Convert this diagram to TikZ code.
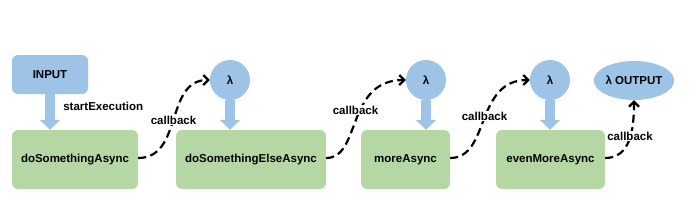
\documentclass[tikz,border=0pt]{standalone}
\usepackage{fontspec}
\setmainfont{Liberation Sans}
\usepackage{tikz}
\usetikzlibrary{positioning,arrows.meta,calc,shapes.geometric}
\definecolor{pipeblue}{RGB}{157,195,230}
\definecolor{taskgreen}{RGB}{181,215,164}

\begin{document}
\begin{tikzpicture}[
        x=1pt, y=1pt,
        font=\fontsize{11.5}{13}\selectfont\bfseries,
        task/.style={
            fill=taskgreen,
            rounded corners=6pt,
            minimum height=59pt,
            inner sep=2pt
        },
        inbox/.style={
            fill=pipeblue,
            rounded corners=6pt,
            minimum width=76pt,
            minimum height=39pt
        },
        lam/.style={
            circle,
            fill=pipeblue,
            minimum size=40pt,
            inner sep=0pt
        },
        outbox/.style={
            ellipse,
            fill=pipeblue,
            minimum width=78pt,
            minimum height=39pt,
            inner sep=0pt
        },
        pipe/.style={
            -{Triangle[length=10pt,width=20pt]},
            line width=10pt,
            draw=pipeblue
        },
        cb/.style={
            -{Straight Barb[length=5pt,width=10pt]},
            line width=2.2pt,
            dash pattern=on 8pt off 4.5pt
        },
        lbl/.style={
            fill=white,
            inner sep=1pt
        }
    ]
    \useasboundingbox (0,0) rectangle (692,210);

    % =========================
    % Tasks
    % =========================
    \node[inbox] (input) at (50,135.5) {INPUT};

    \node[task, minimum width=126pt] (do1) at (75,50.5) {doSomethingAsync};
    \node[task, minimum width=150pt] (do2) at (251,50.5) {doSomethingElseAsync};
    \node[task, minimum width=89pt] (do3) at (405.5,50.5) {moreAsync};
    \node[task, minimum width=109pt] (do4) at (550.5,50.5) {evenMoreAsync};

    \node[lam] (lam1) at (230,130) {λ};
    \node[lam] (lam2) at (426,130) {λ};
    \node[lam] (lam3) at (550,130) {λ};
    \node[outbox] (output) at (634,129.5) {λ OUTPUT};

    % =========================
    % Thick arrows
    % =========================
    \draw[pipe] (input.south) -- (input.south |- do1.north)
        node[pos=0.33, anchor=west, xshift=5pt] (start) {startExecution};
    \draw[pipe] (lam1.south) -- (lam1.south |- do2.north);
    \draw[pipe] (lam2.south) -- (lam2.south |- do3.north);
    \draw[pipe] (lam3.south) -- (lam3.south |- do4.north);

    % =========================
    % Callbacks
    % =========================
    \draw[cb] ($(do1.east)+(0,1.5)$) .. controls +(45,0) and +(-45,0) .. (lam1.west);
    \draw[cb] ($(do2.east)+(0,1.5)$) .. controls +(35,0) and +(-60,0) .. (lam2.west);
    \draw[cb] ($(do3.east)+(0,1.5)$) .. controls +(40,0) and +(-55,0) .. (lam3.west);
    \draw[cb] ($(do4.east)+(0,1.5)$) .. controls +(25,0) and +(0,-30) .. (output.south);

    \node[lbl] (cb1) at (173.5,90) {callback};
    \node[lbl] (cb2) at (355.5,100) {callback};
    \node[lbl] (cb3) at (484.5,94) {callback};
    \node[lbl] (cb4) at (630,74) {callback};

\end{tikzpicture}
\end{document}
